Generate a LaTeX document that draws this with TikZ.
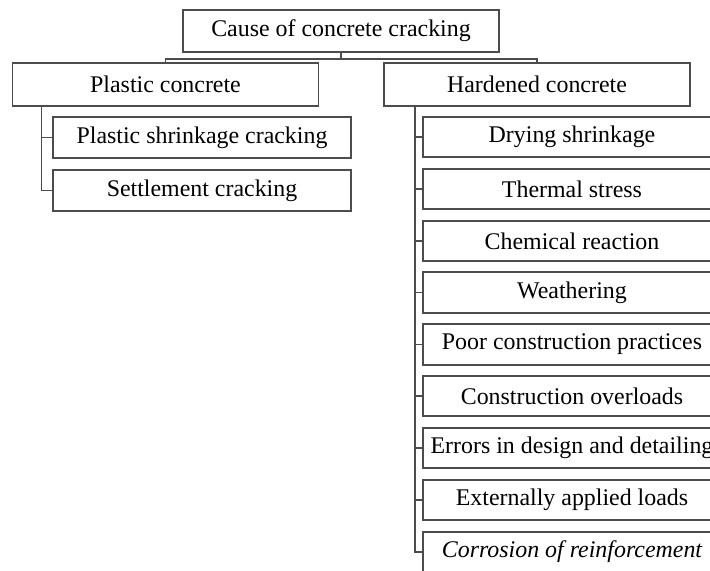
\documentclass[tikz,border=0pt]{standalone}
\usepackage{fontspec}
\setmainfont{Liberation Serif}
\usepackage{tikz}
\usetikzlibrary{positioning,calc}

\begin{document}
\begin{tikzpicture}[x=0.25mm,y=-0.25mm,every node/.style={font=\fontsize{17}{20}\selectfont,align=center,inner sep=0pt},root/.style={draw=black!70,line width=1.4pt,minimum width=79mm,minimum height=10.6mm},group/.style={draw=black!70,line width=1.4pt,minimum width=76.5mm,minimum height=10.7mm},cause/.style={draw=black!70,line width=1.4pt,minimum width=74.5mm,minimum height=10.2mm},link/.style={draw=black!70,line width=1.4pt}]
\useasboundingbox (0,0) rectangle (710,570); \clip (0,0) rectangle (710,570);
\node[root] (root) at (341,31) {Cause of concrete cracking};
\node[group] (plastic) at (165.5,84.5) {Plastic concrete}; \node[group] (hardened) at (537,84.5) {Hardened concrete};
\draw[link] (root.south) -- ++(0,5.5) -| (plastic.north); \draw[link] (root.south) -- ++(0,5.5) -| (hardened.north);
% plastic stage
\node[cause] (pshrink) at (202,137.5) {Plastic shrinkage cracking}; \node[cause] (settle) at (202,190.5) {Settlement cracking};
\draw[link] ([xshift=7.5mm]plastic.south west) |- (settle.west); \draw[link] (pshrink.west) -- ++(-10,0);
% hardened stage
\node[cause] (dry) at (572,137) {Drying shrinkage}; \node[cause] (therm) at (572,189) {Thermal stress}; \node[cause] (chem) at (572,241) {Chemical reaction};
\node[cause] (weath) at (572,292.5) {Weathering}; \node[cause] (poor) at (572,344.5) {Poor construction practices}; \node[cause] (over) at (572,396) {Construction overloads};
\node[cause] (err) at (572,448) {Errors in design and detailing}; \node[cause] (ext) at (572,500) {Externally applied loads}; \node[cause] (corr) at (572,552) {\itshape Corrosion of reinforcement};
\draw[link] ([xshift=8mm]hardened.south west) |- (corr.west);
\draw[link] (dry.west) -- ++(-8,0); \draw[link] (therm.west) -- ++(-8,0); \draw[link] (chem.west) -- ++(-8,0); \draw[link] (weath.west) -- ++(-8,0);
\draw[link] (poor.west) -- ++(-8,0); \draw[link] (over.west) -- ++(-8,0); \draw[link] (err.west) -- ++(-8,0); \draw[link] (ext.west) -- ++(-8,0);
\end{tikzpicture}
\end{document}
